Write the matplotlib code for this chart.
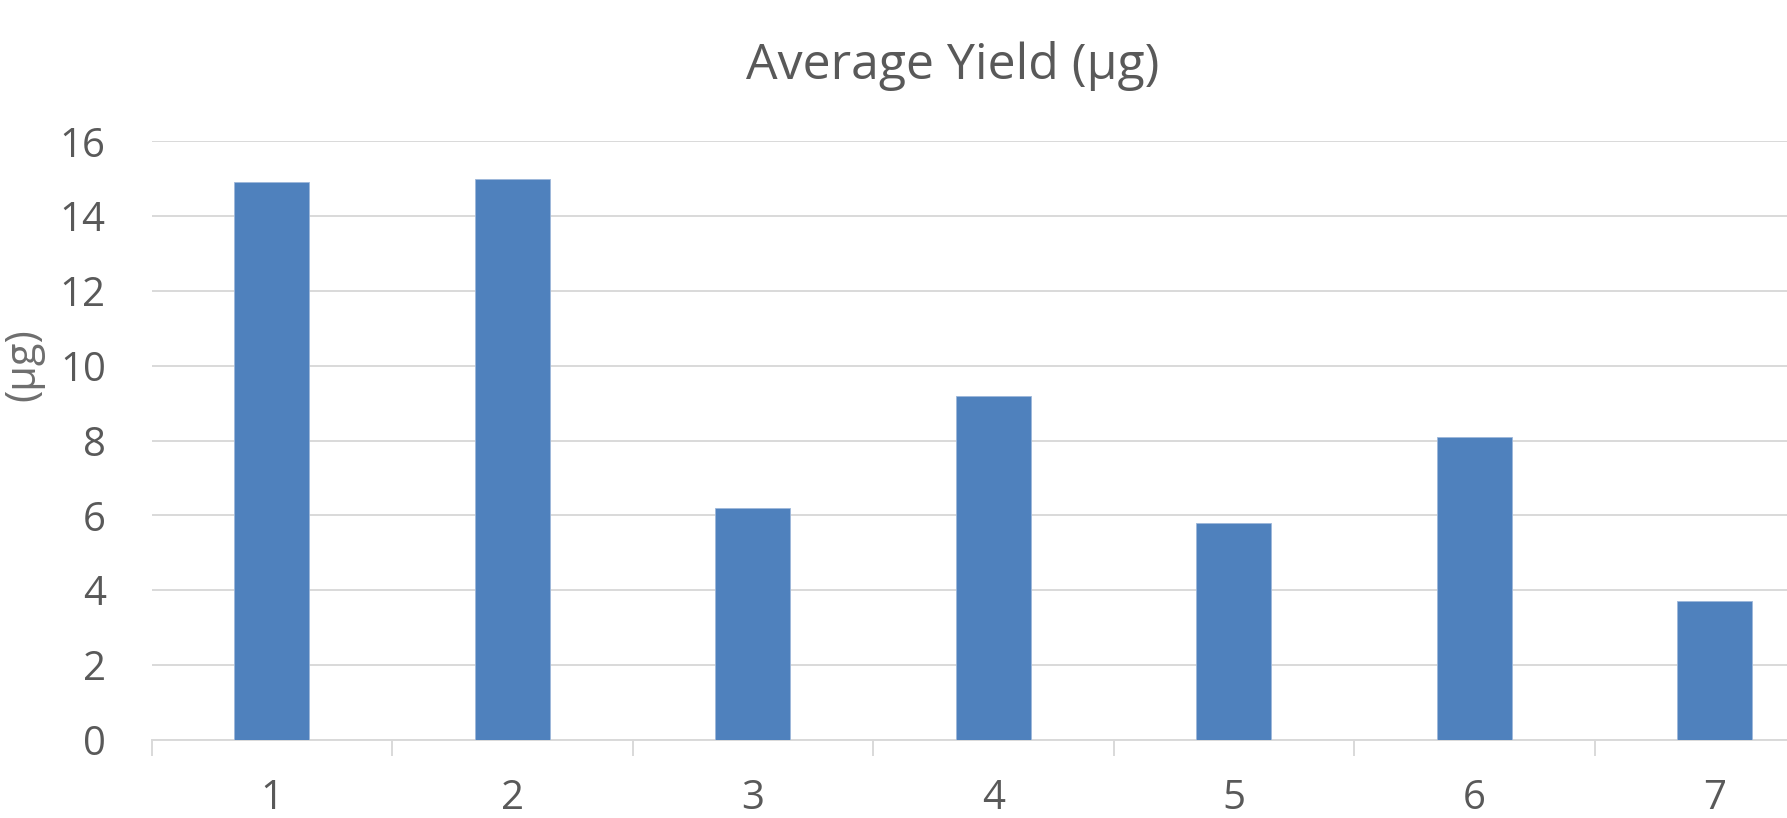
import matplotlib
matplotlib.use("Agg")
import matplotlib.pyplot as plt
import numpy as np

categories = ["1", "2", "3", "4", "5", "6", "7"]
values = [14.9, 15.0, 6.2, 9.2, 5.8, 8.1, 3.7]
yticks = [0, 2, 4, 6, 8, 10, 12, 14, 16]
title = "Average Yield (µg)"
ylabel = "(µg)"

plt.rcParams['font.family'] = ['Open Sans', 'DejaVu Sans']

W, H = 1787, 818
dpi = 100
fig = plt.figure(figsize=(W / dpi, H / dpi), dpi=dpi)
left_px, right_px, bottom_px, top_px = 151.6, 1835.0, 739.7, 141.3
ax = fig.add_axes([left_px / W, (H - bottom_px) / H,
                   (right_px - left_px) / W, (bottom_px - top_px) / H])

text_c = "#595959"
grid_c = "#D9D9D9"
bar_c = "#4F81BD"

x = np.arange(len(categories))
ax.bar(x, values, width=0.313, color=bar_c, edgecolor="#9DB7DA", linewidth=0.6, zorder=3)

ax.set_xlim(-0.5, len(categories) - 0.5)
ax.set_ylim(0, 16)
ax.set_yticks(yticks)
ax.set_yticklabels([str(v) for v in yticks])
ax.yaxis.grid(True, color=grid_c, linewidth=1.4, zorder=0)
ax.set_axisbelow(True)

for s in ["top", "right", "left"]:
    ax.spines[s].set_visible(False)
ax.spines["bottom"].set_color(grid_c)
ax.spines["bottom"].set_linewidth(1.4)

ax.set_xticks(x)
ax.set_xticklabels(categories)
ax.set_xticks(np.arange(-0.5, len(categories)), minor=True)
ax.tick_params(axis="x", which="major", length=0, pad=28, labelsize=29, labelcolor=text_c)
ax.tick_params(axis="x", which="minor", length=11.5, width=1.4, color=grid_c)
ax.tick_params(axis="y", length=0, pad=33, labelsize=29, labelcolor=text_c)

fig.text(953 / W, (H - 79) / H, title, ha="center", va="baseline",
         fontsize=36, color=text_c)
fig.text(2 / W, (H - 365) / H, ylabel, ha="left", va="center",
         rotation=90, fontsize=30, color="#6E6E6E")

fig.savefig("out.png", dpi=dpi)
